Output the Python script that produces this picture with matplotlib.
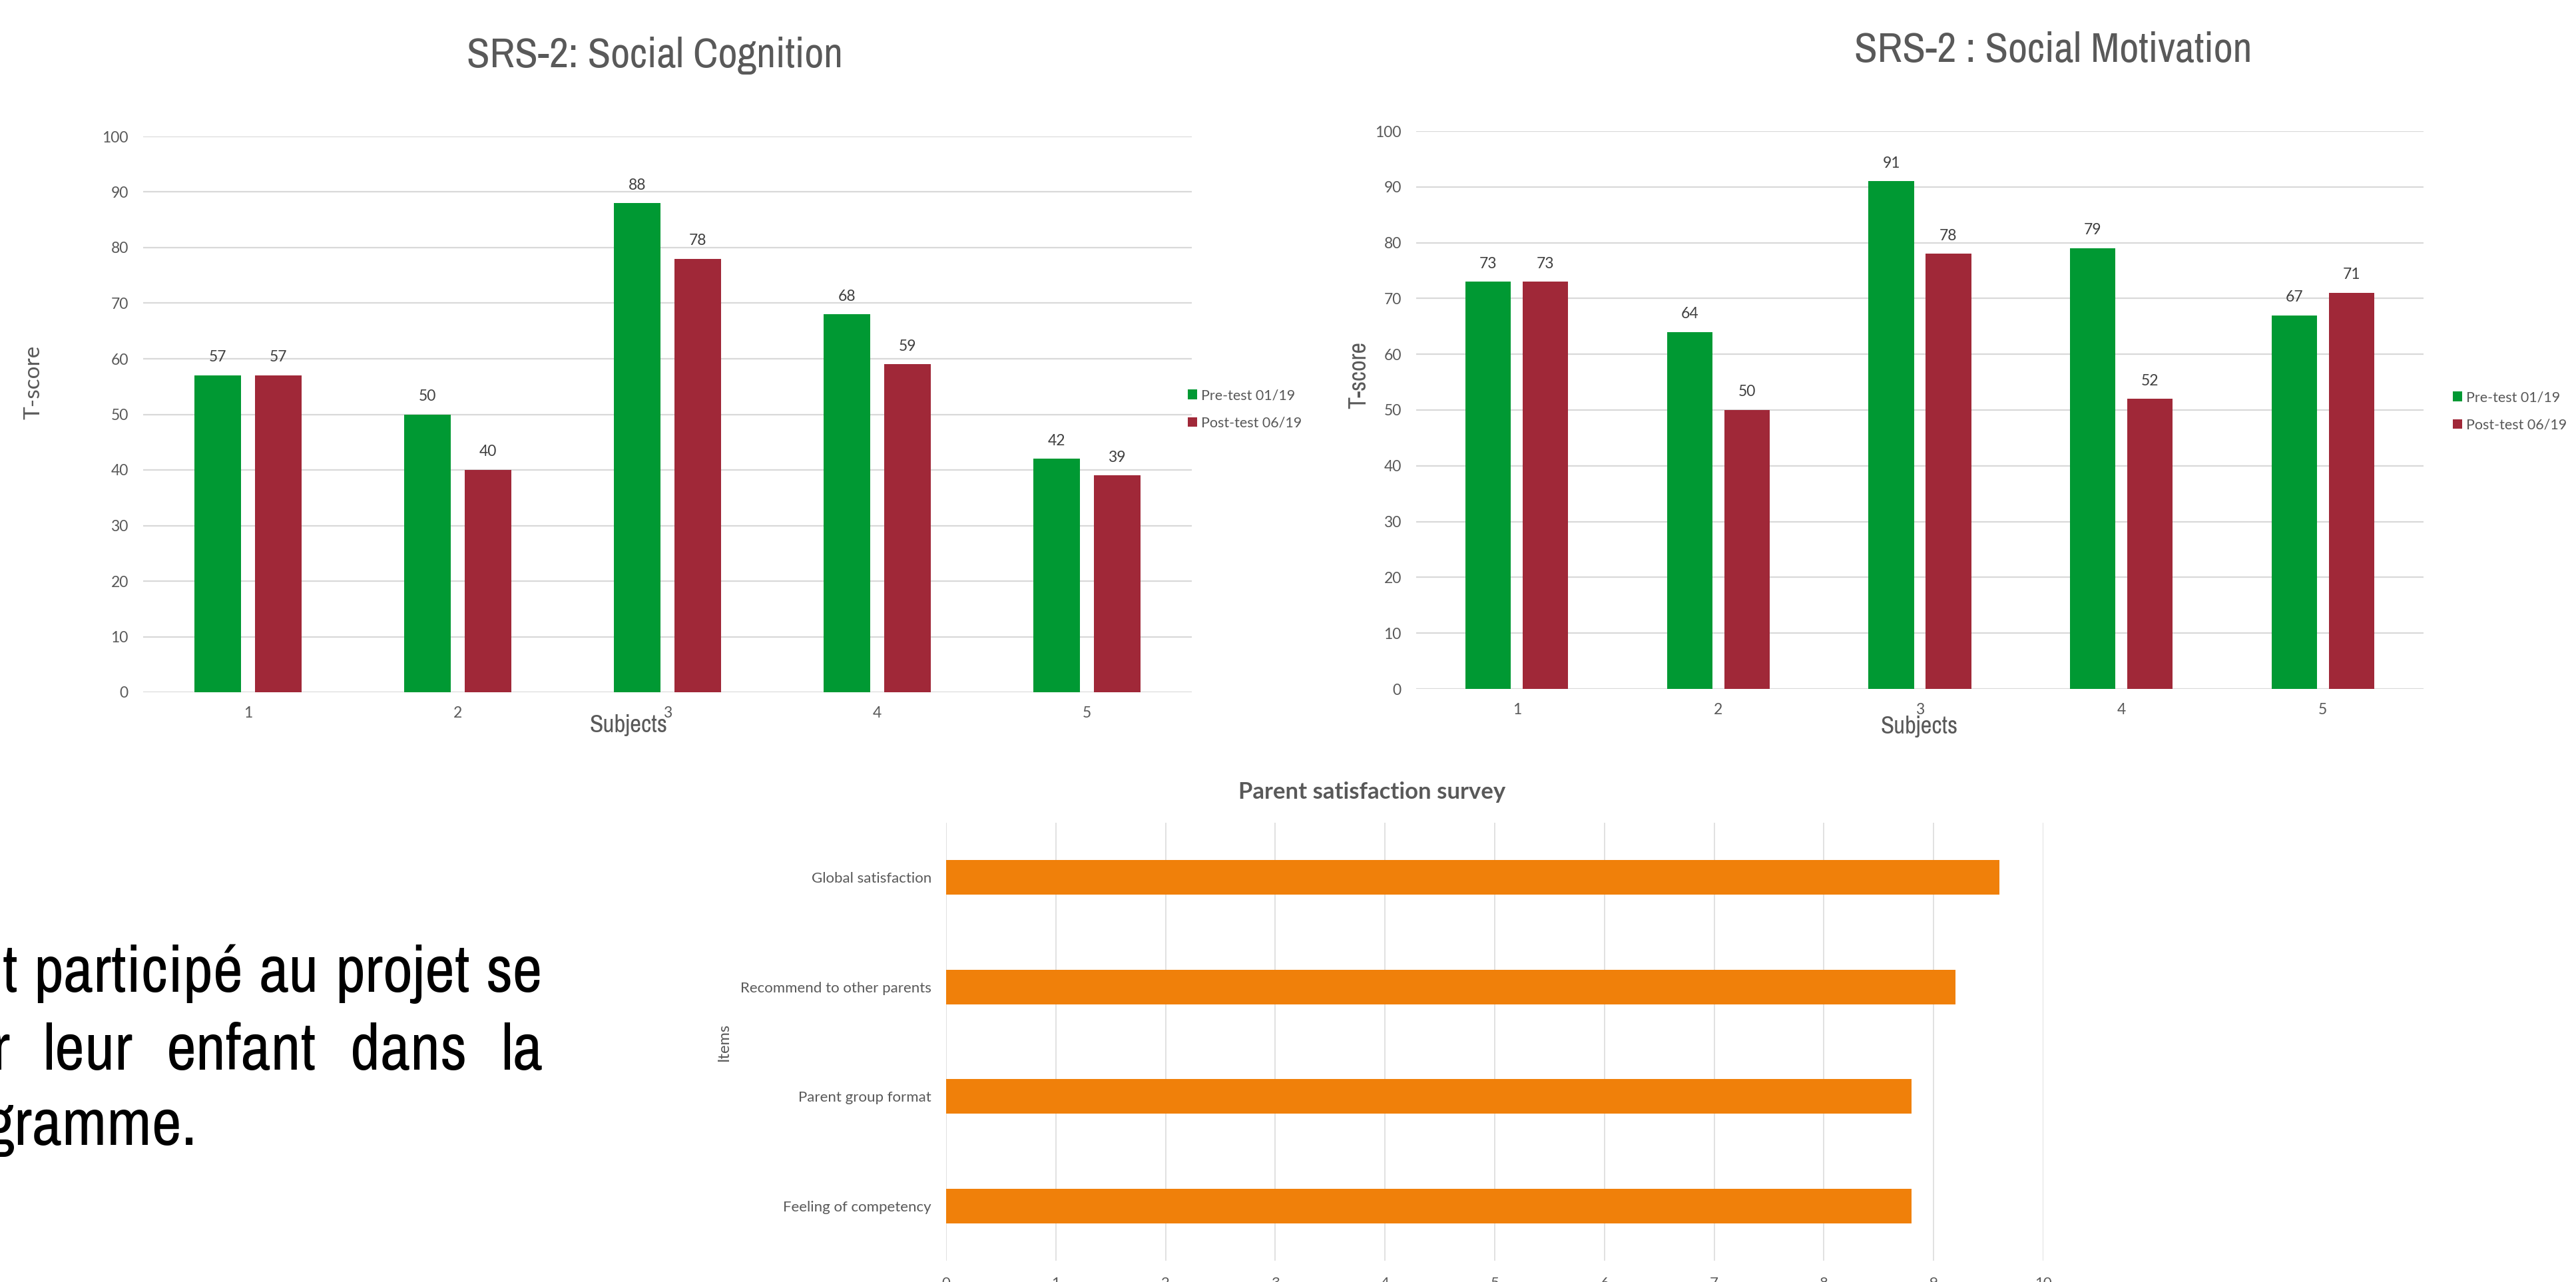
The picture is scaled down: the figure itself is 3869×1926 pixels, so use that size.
import matplotlib
matplotlib.use("Agg")
import matplotlib.pyplot as plt
from matplotlib import font_manager as fm
import os

# ---------------- data ----------------
subjects = ["1", "2", "3", "4", "5"]
series_names = ["Pre-test 01/19", "Post-test 06/19"]
cognition_pre = [57, 50, 88, 68, 42]
cognition_post = [57, 40, 78, 59, 39]
motivation_pre = [73, 64, 91, 79, 67]
motivation_post = [73, 50, 78, 52, 71]
yticks_tscore = [0, 10, 20, 30, 40, 50, 60, 70, 80, 90, 100]

survey_items = ["Global satisfaction", "Recommend to other parents",
                "Parent group format", "Feeling of competency"]
survey_scores = [9.6, 9.2, 8.8, 8.8]
survey_ticks = [0, 1, 2, 3, 4, 5, 6, 7, 8, 9, 10]

text_lines = [["t", "participé", "au", "projet", "se"],
              ["r", "leur", "enfant", "dans", "la"],
              ["gramme."]]

# ---------------- style ----------------
W, H = 3869, 1926
DPI = 100
GREEN = "#009933"
RED = "#A02838"
ORANGE = "#F0800A"
GRID = "#D9D9D9"
TXT = "#595959"
LBL = "#404040"

names = {f.name for f in fm.fontManager.ttflist}
BODY = "Lato" if "Lato" in names else "DejaVu Sans"

# narrow face (Arial Narrow look-alike)
files = {os.path.basename(f.fname): f.fname for f in fm.fontManager.ttflist}
narrow_path = None
for pref in ["LiberationSansNarrow-Regular.ttf", "ArchivoNarrow[wght].ttf",
             "ArchivoNarrow-Regular.ttf", "RobotoCondensed-Regular.ttf",
             "DejaVuSansCondensed.ttf"]:
    if pref in files:
        narrow_path = files[pref]
        break
if narrow_path is None:
    for b, p in files.items():
        if ("Narrow" in b or "Condensed" in b) and not any(
                k in b for k in ("Bold", "Italic", "Oblique", "Light", "Thin", "Black", "Medium")):
            narrow_path = p
            break


def NFP(size):
    if narrow_path:
        return fm.FontProperties(fname=narrow_path, size=size)
    return fm.FontProperties(family="Liberation Sans", size=size)


fig = plt.figure(figsize=(W / DPI, H / DPI), dpi=DPI)
fig.patch.set_facecolor("white")
renderer = fig.canvas.get_renderer()


def fx(px):
    return px / W


def fy(py):
    return 1 - py / H


def width_px(s, fp):
    t = fig.text(0, 0, s, fontproperties=fp)
    w = t.get_window_extent(renderer=renderer).width
    t.remove()
    return w


def fit_size(s, target):
    return 100.0 * target / width_px(s, NFP(100.0))


def axes_px(left, top, right, bottom):
    return fig.add_axes([fx(left), fy(bottom), (right - left) / W, (bottom - top) / H])


def grouped(ax, pre, post, offset, width):
    x = list(range(1, len(subjects) + 1))
    b1 = ax.bar([v - offset for v in x], pre, width=width, color=GREEN, label=series_names[0], zorder=3)
    b2 = ax.bar([v + offset for v in x], post, width=width, color=RED, label=series_names[1], zorder=3)
    for b in (b1, b2):
        ax.bar_label(b, padding=12, fontsize=16.5, color=LBL, family=BODY)
    ax.set_xlim(0.5, len(subjects) + 0.5)
    ax.set_ylim(0, 100)
    ax.set_xticks(x)
    ax.set_xticklabels(subjects)
    ax.set_yticks(yticks_tscore)
    ax.grid(axis="y", color=GRID, linewidth=1.6, zorder=0)
    ax.set_axisbelow(True)
    for s in ax.spines.values():
        s.set_visible(False)
    ax.tick_params(axis="both", length=0, labelsize=16.5, labelcolor=TXT)
    ax.tick_params(axis="y", pad=16)
    ax.tick_params(axis="x", pad=15)
    for t in ax.get_xticklabels() + ax.get_yticklabels():
        t.set_family(BODY)
    return b1, b2


def legend(ax, handles, x, y):
    lg = ax.legend(handles=list(handles), loc="center left",
                   bbox_to_anchor=(fx(x), fy(y)), bbox_transform=fig.transFigure,
                   frameon=False, fontsize=15.5, handlelength=0.65, handleheight=0.65,
                   handletextpad=0.3, labelspacing=1.0, borderpad=0, borderaxespad=0)
    for t in lg.get_texts():
        t.set_color(TXT)
        t.set_family(BODY)


def ntext(x, y, s, target_w, rotation=0, color=TXT):
    fig.text(fx(x), fy(y), s, ha="center", va="center", rotation=rotation,
             fontproperties=NFP(fit_size(s, target_w)), color=color)


# ---------------- chart 1 ----------------
ax1 = axes_px(215, 205, 1790, 1040)
h1 = grouped(ax1, cognition_pre, cognition_post, 0.143, 0.222)
ntext(983, 83, "SRS-2: Social Cognition", 565)
ntext(944, 1090, "Subjects", 117)
fig.text(fx(51), fy(574), "T-score", ha="center", va="center", rotation=90,
         fontsize=24, family=BODY, color=TXT)
legend(ax1, h1, 1784, 615)

# ---------------- chart 2 ----------------
ax2 = axes_px(2127, 197, 3640, 1035)
h2 = grouped(ax2, motivation_pre, motivation_post, 0.142, 0.225)
ntext(3084, 76, "SRS-2 : Social Motivation", 597)
ntext(2883, 1092, "Subjects", 116)
ntext(2041, 563, "T-score", 101, rotation=90)
legend(ax2, h2, 3684, 618)

# ---------------- chart 3 ----------------
ax3 = axes_px(1421, 1236, 3069, 1894)
ypos = list(range(len(survey_items)))
ax3.barh(ypos, survey_scores, height=0.316, color=ORANGE, zorder=3)
ax3.set_ylim(len(survey_items) - 0.5, -0.5)
ax3.set_xlim(0, 10)
ax3.set_yticks(ypos)
ax3.set_yticklabels(survey_items)
ax3.set_xticks(survey_ticks)
ax3.grid(axis="x", color=GRID, linewidth=1.1, zorder=0)
ax3.set_axisbelow(True)
for s in ax3.spines.values():
    s.set_visible(False)
ax3.tick_params(axis="both", length=0, labelsize=16, labelcolor=TXT)
ax3.tick_params(axis="y", pad=16)
ax3.tick_params(axis="x", pad=17)
for t in ax3.get_xticklabels() + ax3.get_yticklabels():
    t.set_family(BODY)
fig.text(fx(2061), fy(1190), "Parent satisfaction survey", ha="center", va="center",
         fontsize=25, family=BODY, fontweight="bold", color=TXT)
fig.text(fx(1087), fy(1565), "Items", ha="center", va="center", rotation=90,
         fontsize=17, family=BODY, color=TXT)

# ---------------- left text (justified, clipped on left) ----------------
line_base = [1490, 1607, 1720]
first_end = [26, 14, 296]
RIGHT = 815
TSIZE = fit_size("participé", 292) * 1.08
TFP = NFP(TSIZE)

for words, base, fe in zip(text_lines, line_base, first_end):
    fig.text(fx(fe), fy(base), words[0], ha="right", va="baseline",
             fontproperties=TFP, color="black")
    if len(words) == 1:
        continue
    last_w = width_px(words[-1], TFP)
    mids = words[1:-1]
    mid_w = [width_px(w, TFP) for w in mids]
    gap = ((RIGHT - last_w) - fe - sum(mid_w)) / (len(mids) + 1)
    x = fe + gap
    for w, ww in zip(mids, mid_w):
        fig.text(fx(x), fy(base), w, ha="left", va="baseline",
                 fontproperties=TFP, color="black")
        x += ww + gap
    fig.text(fx(RIGHT), fy(base), words[-1], ha="right", va="baseline",
             fontproperties=TFP, color="black")

fig.savefig("out.png", dpi=DPI, facecolor="white")
